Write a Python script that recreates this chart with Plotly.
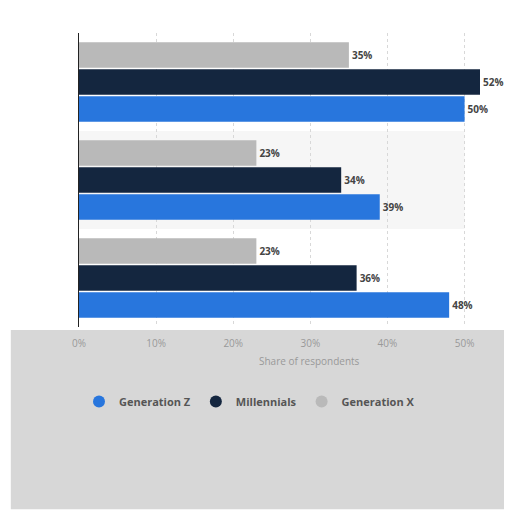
import plotly.graph_objects as go

# groups listed top to bottom (category names are not legible in the picture)
groups = ['Group A', 'Group B', 'Group C']
gen_z = [50, 39, 48]
millennials = [52, 34, 36]
gen_x = [35, 23, 23]

series = [
    ('Generation Z', gen_z, '#2876dd'),
    ('Millennials', millennials, '#14263f'),
    ('Generation X', gen_x, '#b9b9b9'),
]

fig = go.Figure()

for name, vals, color in series:
    fig.add_trace(go.Bar(
        y=groups, x=vals, orientation='h', name=name,
        marker=dict(color=color, line=dict(width=0)),
        text=[f'{v}%' for v in vals], textposition='outside',
        textfont=dict(family='Open Sans', size=10, color='#444444', weight='bold'),
        cliponaxis=False, showlegend=False,
    ))

# legend with round markers
for name, vals, color in series:
    fig.add_trace(go.Scatter(
        x=[None], y=[None], mode='markers', name=name,
        marker=dict(symbol='circle', size=12, color=color),
    ))

# blurred grey area behind axis labels and legend
fig.add_shape(type='rect', xref='paper', yref='paper',
              x0=-0.17, x1=1.06, y0=-0.01, y1=-0.62,
              fillcolor='#d7d7d7', line=dict(width=0), layer='below')
# light band behind the middle group
fig.add_shape(type='rect', xref='x', yref='paper',
              x0=0, x1=50, y0=1/3, y1=2/3,
              fillcolor='#f6f6f6', line=dict(width=0), layer='below')

fig.add_annotation(text='Share of respondents', xref='paper', yref='paper',
                   x=0.576, y=-0.115, xanchor='center', yanchor='middle',
                   showarrow=False, font=dict(size=10, color='#999999'))

fig.update_layout(
    width=512, height=512,
    margin=dict(l=71, r=40, t=25, b=193),
    paper_bgcolor='white', plot_bgcolor='rgba(0,0,0,0)',
    barmode='group', bargap=0.17, bargroupgap=0.06,
    font=dict(family='Open Sans', color='#444444'),
    legend=dict(orientation='h', x=0.0, xanchor='left', y=-0.204, yanchor='top',
                font=dict(size=11, color='#555555', weight='bold'),
                bgcolor='rgba(0,0,0,0)', itemwidth=30),
    xaxis=dict(range=[0, 52], tickvals=[0, 10, 20, 30, 40, 50],
               ticktext=['0%', '10%', '20%', '30%', '40%', '50%'],
               showgrid=True, gridcolor='#d8d8d8', griddash='dot', gridwidth=1,
               zeroline=False, automargin=False, ticklabelstandoff=9,
               tickfont=dict(size=10, color='#999999')),
    yaxis=dict(categoryorder='array', categoryarray=groups[::-1],
               showticklabels=False, showgrid=False, automargin=False,
               showline=True, linecolor='#222222', linewidth=1),
)

fig.write_html('out.html')
